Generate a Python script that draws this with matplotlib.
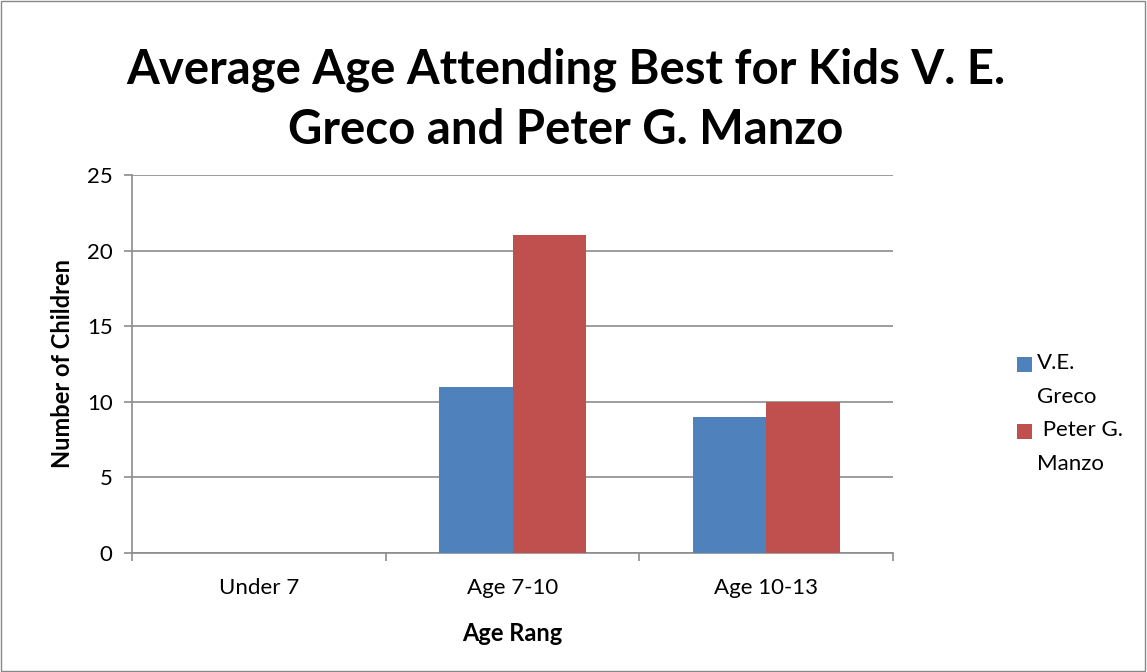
import matplotlib.pyplot as plt
import numpy as np
from matplotlib.patches import Rectangle

plt.rcParams["font.family"] = ["Lato", "DejaVu Sans"]

categories = ["Under 7", "Age 7-10", "Age 10-13"]
series_names = ["V.E.\nGreco", " Peter G.\nManzo"]
greco = [0, 11, 9]
manzo = [0, 21, 10]
colors = ["#4F81BD", "#C0504D"]

fig = plt.figure(figsize=(11.47, 6.72), dpi=100)
ax = fig.add_axes([0.1151, 0.1771, 0.6635, 0.5625])

# outer chart frame
fig.add_artist(Rectangle((0.001, 0.002), 0.997, 0.996, transform=fig.transFigure,
                         fill=False, edgecolor="#888888", linewidth=1))

x = np.arange(len(categories))
width = 0.29
ax.bar(x - width / 2, greco, width, color=colors[0], zorder=3)
ax.bar(x + width / 2, manzo, width, color=colors[1], zorder=3)

ax.set_xlim(-0.5, len(categories) - 0.5)
ax.set_ylim(0, 25)
ax.set_yticks(range(0, 26, 5))
ax.yaxis.grid(True, color="#8c8c8c", linewidth=1.2, zorder=0)

# category boundary ticks on the x axis
ax.set_xticks(np.arange(-0.5, len(categories), 1.0))
ax.set_xticks(x, minor=True)
ax.set_xticklabels([])
ax.set_xticklabels(categories, minor=True)
ax.tick_params(axis="x", which="major", length=6, color="#8c8c8c", width=1.2)
ax.tick_params(axis="x", which="minor", length=0, labelsize=16, pad=18)
ax.tick_params(axis="y", length=6, color="#8c8c8c", width=1.2, labelsize=16, pad=8)

for side in ["top", "right"]:
    ax.spines[side].set_visible(False)
for side in ["left", "bottom"]:
    ax.spines[side].set_color("#8c8c8c")
    ax.spines[side].set_linewidth(1.2)

ax.set_xlabel("Age Rang", fontsize=17, fontweight="bold", labelpad=17)
ax.set_ylabel("Number of Children", fontsize=17, fontweight="bold", labelpad=9)

fig.suptitle("Average Age Attending Best for Kids V. E.\nGreco and Peter G. Manzo",
             x=0.493, y=0.93, fontsize=34, fontweight="bold", linespacing=1.45)

# legend drawn as swatches with two-line labels
for i, (name, color) in enumerate(zip(series_names, colors)):
    top = 1 - (357 + i * 67) / 672
    fig.add_artist(Rectangle((1017 / 1147, top - 15 / 672), 15 / 1147, 15 / 672,
                             transform=fig.transFigure, facecolor=color, edgecolor="none"))
    fig.text(1037 / 1147, top + 4 / 672, name, fontsize=16, va="top", ha="left",
             linespacing=1.85)

fig.savefig("out.png", dpi=100)
